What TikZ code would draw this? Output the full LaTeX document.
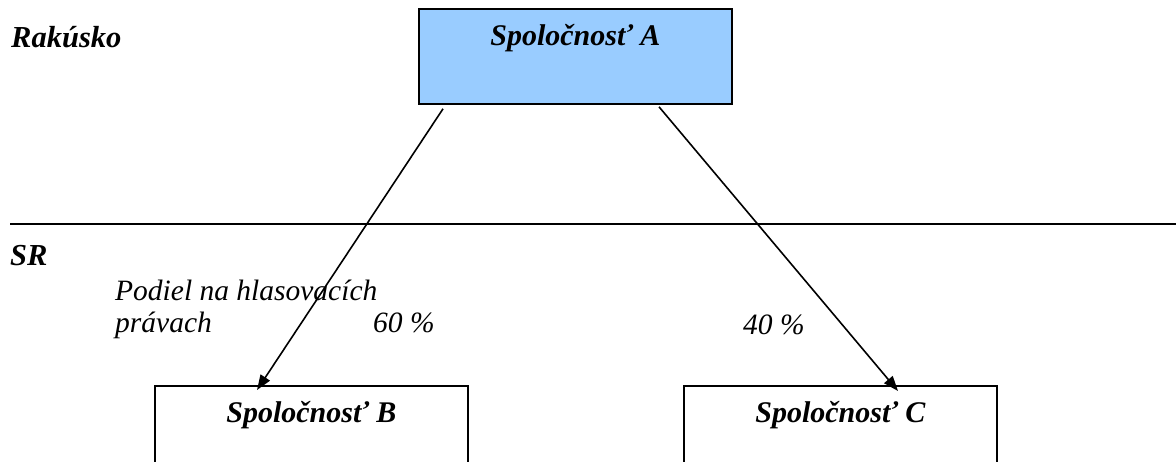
\documentclass[tikz,border=0pt]{standalone}
\usepackage{fontspec}
\setmainfont{Liberation Serif}
\usetikzlibrary{arrows.meta,calc}
\definecolor{boxblue}{HTML}{99CCFF}
\tikzset{
  company/.style={draw=black, line width=1.8pt, inner sep=0pt, anchor=north west},
  lbl/.style={inner sep=0pt, anchor=base west, font=\fontsize{29.5}{34}\selectfont\itshape},
  blbl/.style={inner sep=0pt, anchor=base west, font=\fontsize{30.5}{34}\selectfont\bfseries\itshape},
  ctitle/.style={inner sep=0pt, anchor=base, font=\fontsize{30}{34}\selectfont\bfseries\itshape},
  conn/.style={line width=1.6pt, -{Triangle[length=15pt,width=11pt]}}
}
\begin{document}
\begin{tikzpicture}[x=1pt,y=-1pt]
\useasboundingbox (0,0) rectangle (1176,461);
\clip (0,0) rectangle (1176,461);
% boxes
\node[company, fill=boxblue, minimum width=313pt, minimum height=95pt] (A) at (418,8) {};
\node[company, fill=white, minimum width=313pt, minimum height=110pt] (B) at (154,385) {};
\node[company, fill=white, minimum width=313pt, minimum height=110pt] (C) at (683,385) {};
% box titles
\node[ctitle] (tA) at ($(A.north)+(0,37)$) {Spoločnosť A};
\node[ctitle] (tB) at ($(B.north)+(0,37)$) {Spoločnosť B};
\node[ctitle] (tC) at ($(C.north)+(0,37)$) {Spoločnosť C};
% divider
\coordinate (L1) at (10,224);
\coordinate (L2) at (1176,224);
\draw[line width=1.7pt] (L1) -- (L2);
% region labels
\node[blbl] (rak) at (11,47) {Rakúsko};
\node[blbl] (sr) at (10,265) {SR};
% share labels
\node[lbl] (pod1) at (115,300) {Podiel na hlasovacích};
\node[lbl] (pod2) at (115,332) {právach};
\node[lbl] (p60) at (373,332) {60 \%};
\node[lbl] (p40) at (743,334) {40 \%};
% connectors
\draw[conn] ($(A.south west)+(25,4)$) -- ($(B.north west)+(103,5)$);
\draw[conn] ($(A.south west)+(241,2)$) -- ($(C.north west)+(215,6)$);
\end{tikzpicture}
\end{document}
